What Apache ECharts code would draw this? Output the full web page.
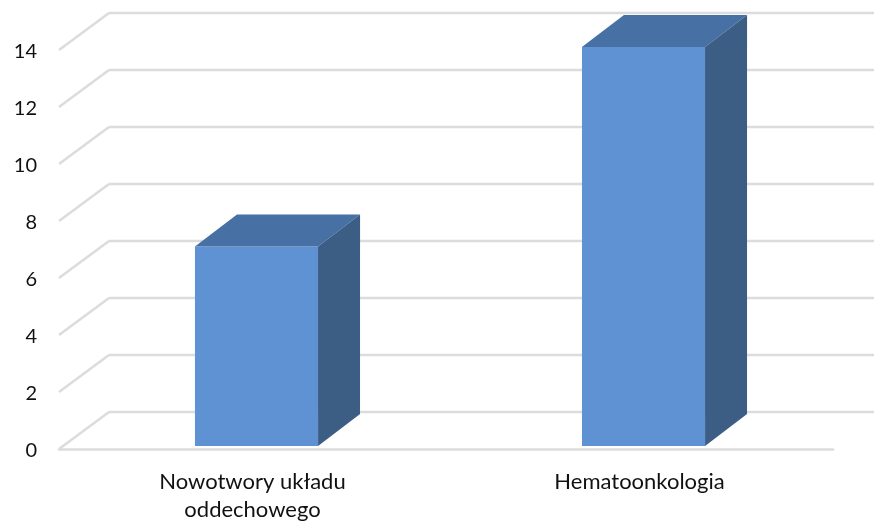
<!DOCTYPE html>
<html>
<head>
<meta charset="utf-8">
<style>
  html, body { margin: 0; padding: 0; background: #fff; }
  #chart { width: 874px; height: 521px; }
</style>
</head>
<body>
<div id="chart"></div>
<script src="https://cdn.jsdelivr.net/npm/echarts@6/dist/echarts.min.js"></script>
<script>
var categories = ["Nowotwory układu\noddechowego", "Hematoonkologia"];
var values = [7, 14];
var ticks = [0, 2, 4, 6, 8, 10, 12, 14];

// pseudo 3D depth, in pixels
var wallDx = 50, wallDy = -37;
var barDx = 42, barDy = -32;
var barShiftX = 4, barShiftY = -3;
var gridColor = "#dcdcdc";

var myChart = echarts.init(document.getElementById("chart"));

function renderWall(params, api) {
  var p = api.coord([0, api.value(0)]);
  var cs = params.coordSys;
  var x0 = cs.x, x1 = cs.x + cs.width;
  var style = { stroke: gridColor, lineWidth: 2.5, fill: null };
  return {
    type: "group",
    children: [
      { type: "line", shape: { x1: x0, y1: p[1], x2: x0 + wallDx, y2: p[1] + wallDy }, style: style },
      { type: "line", shape: { x1: x0 + wallDx, y1: p[1] + wallDy, x2: x1 + wallDx, y2: p[1] + wallDy }, style: style },
    ],
  };
}

function renderBar(params, api) {
  var top = api.coord([api.value(0), api.value(1)]);
  var base = api.coord([api.value(0), 0]);
  var w = api.size([1, 0])[0] * 0.318;
  var l = top[0] - w / 2 + barShiftX, r = l + w;
  var t = top[1] + barShiftY, b = base[1] + barShiftY;
  return {
    type: "group",
    children: [
      {
        type: "rect",
        shape: { x: l, y: t, width: w, height: b - t },
        style: { fill: "#5e92d3" },
      },
      {
        type: "polygon",
        shape: { points: [[l, t], [l + barDx, t + barDy], [r + barDx, t + barDy], [r, t]] },
        style: { fill: "#4771a5" },
      },
      {
        type: "polygon",
        shape: { points: [[r, t], [r + barDx, t + barDy], [r + barDx, b + barDy], [r, b]] },
        style: { fill: "#3c5e85" },
      },
    ],
  };
}

var option = {
  animation: false,
  backgroundColor: "#fff",
  textStyle: { fontFamily: "Lato" },
  grid: { left: 59, right: 41, top: 50, bottom: 72, outerBoundsMode: "none" },
  xAxis: {
    type: "category",
    data: categories,
    axisTick: { show: false },
    axisLine: { lineStyle: { color: gridColor, width: 2.5 } },
    axisLabel: { color: "#111", fontSize: 22, fontFamily: "Lato", lineHeight: 28, margin: 19, interval: 0 },
  },
  yAxis: {
    type: "value",
    min: 0,
    max: 14,
    interval: 2,
    axisLine: { show: false },
    axisTick: { show: false },
    splitLine: { show: false },
    // verticalAlign top + tiny lineHeight nudges the numbers just under the tick
    axisLabel: { color: "#111", fontSize: 20, fontFamily: "Lato", margin: 22, verticalAlign: "top", lineHeight: 4 },
  },
  series: [
    {
      type: "custom",
      silent: true,
      clip: false,
      renderItem: renderWall,
      encode: { y: 0 },
      data: ticks.map(function (t) { return [t]; }),
      z: 1,
    },
    {
      type: "custom",
      silent: true,
      clip: false,
      renderItem: renderBar,
      encode: { x: 0, y: 1 },
      data: values.map(function (v, i) { return [i, v]; }),
      z: 2,
    },
  ],
};
myChart.setOption(option);
</script>
</body>
</html>
